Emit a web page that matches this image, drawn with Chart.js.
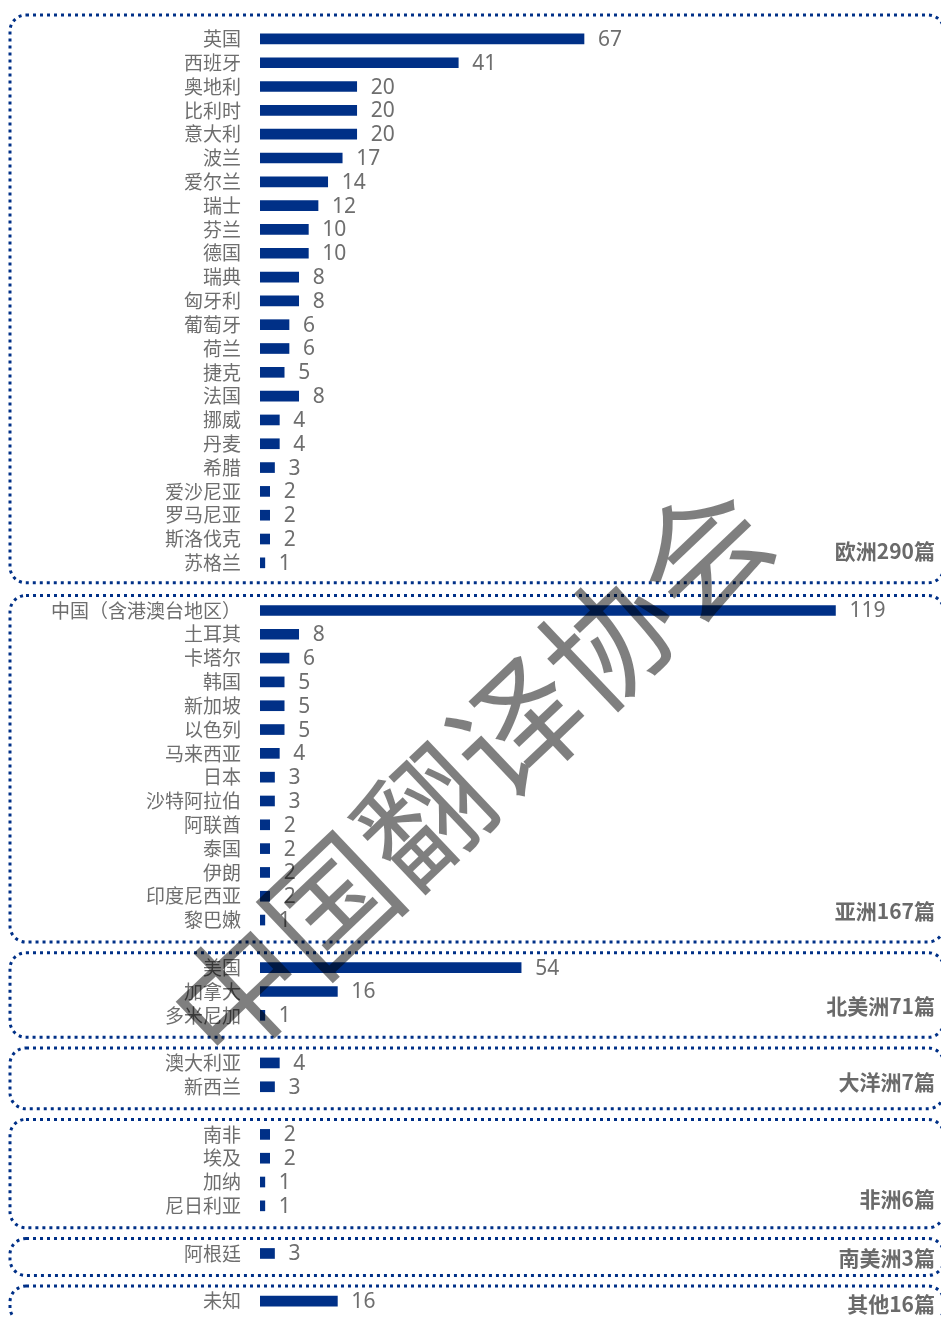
<!DOCTYPE html>
<html>
<head>
<meta charset="utf-8">
<script src="https://cdn.jsdelivr.net/npm/chart.js@4.4.1/dist/chart.umd.min.js"></script>
<style>
    html, body { margin: 0; padding: 0; background: #fff; }
    #wrap { width: 941px; height: 1317px; position: relative; }
</style>
</head>
<body>
<div id="wrap"><canvas id="countryChart"></canvas></div>
<script>
// 各洲国家与篇数
const europeNames = ['英国', '西班牙', '奥地利', '比利时', '意大利', '波兰', '爱尔兰', '瑞士', '芬兰', '德国', '瑞典', '匈牙利', '葡萄牙', '荷兰', '捷克', '法国', '挪威', '丹麦', '希腊', '爱沙尼亚', '罗马尼亚', '斯洛伐克', '苏格兰'];
const europeValues = [67, 41, 20, 20, 20, 17, 14, 12, 10, 10, 8, 8, 6, 6, 5, 8, 4, 4, 3, 2, 2, 2, 1];

const asiaNames = ['中国（含港澳台地区）', '土耳其', '卡塔尔', '韩国', '新加坡', '以色列', '马来西亚', '日本', '沙特阿拉伯', '阿联酋', '泰国', '伊朗', '印度尼西亚', '黎巴嫩'];
const asiaValues = [119, 8, 6, 5, 5, 5, 4, 3, 3, 2, 2, 2, 2, 1];

const northAmericaNames = ['美国', '加拿大', '多米尼加'];
const northAmericaValues = [54, 16, 1];

const oceaniaNames = ['澳大利亚', '新西兰'];
const oceaniaValues = [4, 3];

const africaNames = ['南非', '埃及', '加纳', '尼日利亚'];
const africaValues = [2, 2, 1, 1];

const southAmericaNames = ['阿根廷'];
const southAmericaValues = [3];

const otherNames = ['未知'];
const otherValues = [16];

const groupTitles = ['欧洲290篇', '亚洲167篇', '北美洲71篇', '大洋洲7篇', '非洲6篇', '南美洲3篇', '其他16篇'];

const colors = {
    bar: '#003087',
    box: '#003087',
    text: '#6e6e6e',
    title: '#6a6a6a',
    watermark: 'rgba(0, 0, 0, 0.5)',
};

// 标题相对最后一行的微调
const titleNudge = [-12, -9, -9, -5, -7, 5, 3];

const groups = [
    [europeNames, europeValues],
    [asiaNames, asiaValues],
    [northAmericaNames, northAmericaValues],
    [oceaniaNames, oceaniaValues],
    [africaNames, africaValues],
    [southAmericaNames, southAmericaValues],
    [otherNames, otherValues],
];

const labels = [];
const values = [];
const spans = [];
groups.forEach(([names, vals], gi) => {
    if (gi > 0) {
        labels.push('');
        values.push(null);
    }
    const first = labels.length;
    names.forEach((n, i) => {
        labels.push(n);
        values.push(vals[i]);
    });
    spans.push({ first: first, last: labels.length - 1, title: groupTitles[gi] });
});

function dottedRoundRect(ctx, x, y, w, h, r) {
    ctx.beginPath();
    ctx.moveTo(x + r, y);
    ctx.lineTo(x + w - r, y);
    ctx.arcTo(x + w, y, x + w, y + r, r);
    ctx.lineTo(x + w, y + h - r);
    ctx.arcTo(x + w, y + h, x + w - r, y + h, r);
    ctx.lineTo(x + r, y + h);
    ctx.arcTo(x, y + h, x, y + h - r, r);
    ctx.lineTo(x, y + r);
    ctx.arcTo(x, y, x + r, y, r);
    ctx.closePath();
    ctx.stroke();
}

const groupBoxes = {
    id: 'groupBoxes',
    beforeDatasetsDraw(chart) {
        const ctx = chart.ctx;
        const yScale = chart.scales.y;
        ctx.save();
        ctx.strokeStyle = colors.box;
        ctx.lineWidth = 3;
        ctx.setLineDash([3, 4]);
        spans.forEach((s, i) => {
            const top = i === 0 ? chart.chartArea.top - 12 : yScale.getPixelForValue(s.first) - 15;
            const bottom = yScale.getPixelForValue(s.last) + (i === 0 ? 20 : 22);
            dottedRoundRect(ctx, 10, top, 934, bottom - top, 16);
        });
        ctx.setLineDash([]);
        ctx.fillStyle = colors.title;
        ctx.font = 'bold 21px "Noto Sans CJK SC", sans-serif';
        ctx.textAlign = 'right';
        ctx.textBaseline = 'middle';
        spans.forEach((s, i) => {
            ctx.fillText(s.title, 935, yScale.getPixelForValue(s.last) + titleNudge[i]);
        });
        ctx.restore();
    }
};

const valueLabels = {
    id: 'valueLabels',
    afterDatasetsDraw(chart) {
        const ctx = chart.ctx;
        const meta = chart.getDatasetMeta(0);
        ctx.save();
        ctx.fillStyle = colors.text;
        ctx.font = '21px "Noto Sans", sans-serif';
        ctx.textAlign = 'left';
        ctx.textBaseline = 'middle';
        meta.data.forEach((bar, i) => {
            const v = values[i];
            if (v === null) return;
            ctx.fillText(String(v), bar.x + 14, bar.y + 1);
        });
        ctx.restore();
    }
};

const watermark = {
    id: 'watermark',
    afterDraw(chart) {
        const ctx = chart.ctx;
        ctx.save();
        ctx.translate(470, 772);
        ctx.rotate(-43.5 * Math.PI / 180);
        ctx.fillStyle = colors.watermark;
        ctx.font = '128px "Noto Sans CJK SC", sans-serif';
        ctx.textAlign = 'center';
        ctx.textBaseline = 'middle';
        ctx.fillText('中国翻译协会', 0, 0);
        ctx.restore();
    }
};

new Chart(document.getElementById('countryChart'), {
    type: 'bar',
    data: {
        labels: labels,
        datasets: [{
            data: values,
            backgroundColor: colors.bar,
            borderWidth: 0,
            barThickness: 10,
        }]
    },
    options: {
        indexAxis: 'y',
        responsive: true,
        maintainAspectRatio: false,
        animation: false,
        layout: {
            padding: { top: 27, bottom: 4, left: 0, right: 4 }
        },
        plugins: {
            legend: { display: false },
            tooltip: { enabled: false }
        },
        scales: {
            x: {
                display: false,
                min: 0,
                max: 140,
            },
            y: {
                afterFit(scale) {
                    scale.width = 260;
                    scale.paddingTop = 0;
                    scale.paddingBottom = 0;
                },
                grid: { display: false, drawTicks: false },
                border: { display: false },
                ticks: {
                    autoSkip: false,
                    padding: 19,
                    color: colors.text,
                    font: { family: '"Noto Sans CJK SC", sans-serif', size: 19 }
                }
            }
        }
    },
    plugins: [groupBoxes, valueLabels, watermark]
});
</script>
</body>
</html>
